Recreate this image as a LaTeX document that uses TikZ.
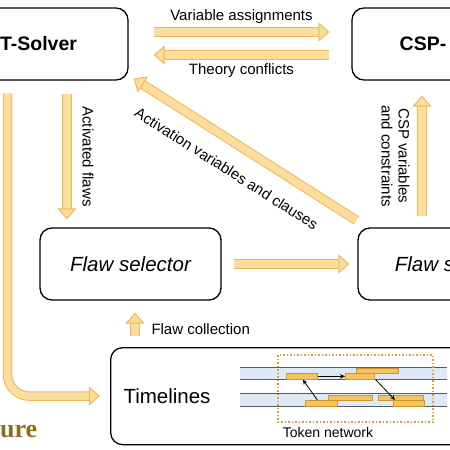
\documentclass[tikz,border=0pt]{standalone}
\usepackage{fontspec}
\setmainfont{Liberation Sans}
\newfontfamily\titlefont{Liberation Serif}
\usetikzlibrary{arrows.meta,positioning}

\definecolor{arrowfill}{RGB}{251,221,158}
\definecolor{arrowline}{RGB}{242,182,88}
\definecolor{bandblue}{RGB}{221,233,246}
\definecolor{bandline}{RGB}{85,92,100}
\definecolor{tokenfill}{RGB}{246,196,92}
\definecolor{tokenline}{RGB}{205,150,45}
\definecolor{netline}{RGB}{222,160,45}
\definecolor{titlegold}{RGB}{140,108,32}

\tikzset{
	module/.style={draw=black, line width=1.3pt, rounded corners=12pt, fill=white, minimum height=72pt},
	fat/.style={draw=arrowline, line width=1pt, double=arrowfill, double distance=7.5pt,
		-{Triangle[length=11pt,width=19pt,fill=arrowfill,line width=1pt]}},
	lbl/.style={font=\fontsize{15}{17}\selectfont, inner sep=2pt},
	token/.style={draw=tokenline, fill=tokenfill, line width=0.7pt, minimum height=6pt, inner sep=0pt, anchor=north west},
	tokarrow/.style={draw=black, line width=0.8pt, -{Stealth[length=5pt,width=4.5pt]}},
}

\begin{document}
\begin{tikzpicture}[x=1pt,y=-1pt]
		\useasboundingbox (0,0) rectangle (450,450);
		\clip (0,0) rectangle (450,450);
		\node[module, minimum width=179pt, font=\bfseries\fontsize{19.5}{22}\selectfont] (smt) at (38.5,44) {T-Solver};
		\node[module, minimum width=142pt, font=\bfseries\fontsize{19.5}{22}\selectfont] (csp) at (423,44) {CSP-};
		\node[module, minimum width=181pt, font=\itshape\fontsize{20.5}{23}\selectfont] (fsel) at (130.5,264) {Flaw selector};
		\node[module, minimum width=133pt, font=\itshape\fontsize{20.5}{23}\selectfont] (fsol) at (424.5,264) {Flaw s};
		\node[module, minimum width=370pt, minimum height=97pt, anchor=north west] (tl) at (110,347) {};
		\node[anchor=west, font=\fontsize{20.5}{23}\selectfont] (tltext) at ([xshift=10pt]tl.west) {Timelines};
		
		% timelines and tokens
		\fill[bandblue] (240,367) rectangle (447,379);
		\fill[bandblue] (240,393) rectangle (447,406);
		\foreach \y in {367,379,393,406}
			\draw[bandline, line width=0.9pt] (240,\y) -- (447,\y);
		\node[token, minimum width=31pt] (t1) at (286,373) {};
		\node[token, minimum width=42pt, minimum height=5pt] (t3) at (356,368) {};
		\node[token, minimum width=29pt] (t2) at (345,373) {};
		\node[token, minimum width=44pt, minimum height=5pt] (t5) at (328,395) {};
		\node[token, minimum width=45pt, minimum height=5pt] (t6) at (378,395) {};
		\node[token, minimum width=32pt] (t4) at (305,400) {};
		\node[token, minimum width=31pt] (t7) at (393,400) {};
		\draw[tokarrow] (t1.east) -- (t2.west);
		\draw[tokarrow] ([xshift=-4pt]t4.north) -- ([xshift=1pt]t1.south);
		\draw[tokarrow] ([xshift=1pt]t2.south east) -- ([xshift=2pt]t7.north west);
		\draw[netline, dotted, line width=1.5pt] (278,355) rectangle (433,422);
		\node[font=\fontsize{14}{16}\selectfont] (tnet) at (328,432) {Token network};
		
		% block arrows
		\draw[fat] ([shift={(25,-12)}]smt.east) -- ([shift={(-22,-12)}]csp.west)
			node[lbl, midway, above=6pt] (va) {Variable assignments};
		\draw[fat] ([shift={(-22,11)}]csp.west) -- ([shift={(25,11)}]smt.east)
			node[lbl, midway, below=6pt] (tc) {Theory conflicts};
		\draw[fat] ([shift={(28.5,13)}]smt.south) -- ([shift={(28.5,-8)}]smt.south |- fsel.north)
			node[lbl, midway, xshift=13pt, rotate=-90, anchor=south] (af) {Activated flaws};
		\draw[fat, rounded corners=22pt] ([shift={(-31,13)}]smt.south) |- ([xshift=-10pt]tl.west);
		\draw[fat] ([xshift=12pt]fsel.east) -- ([xshift=-8pt]fsol.west);
		\draw[fat] ([shift={(4.5,35)}]fsel.south) -- ([shift={(4.5,12)}]fsel.south)
			node[lbl, pos=0.3, right=14pt] (fc) {Flaw collection};
		\draw[fat] ([shift={(-1,-7)}]fsol.north west) -- ([shift={(5,-2)}]smt.south east)
			node[lbl, pos=0.52, sloped, below=18pt] (avc) {Activation variables and clauses};
		\draw[fat] ([shift={(-1,-11)}]csp.south |- fsol.north) -- ([shift={(-1,15)}]csp.south)
			node[lbl, midway, xshift=-10pt, rotate=-90, anchor=north, align=center] (cv) {CSP variables\\and constraints};
		
		\node[anchor=west, inner sep=0pt, text=titlegold, font=\titlefont\bfseries\fontsize{26}{28}\selectfont] (title) at (0,431) {ure};
	\end{tikzpicture}
\end{document}
